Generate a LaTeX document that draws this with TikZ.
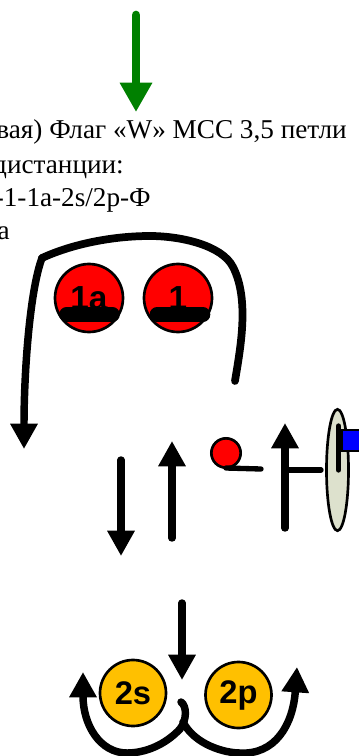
\documentclass[tikz,border=0pt]{standalone}
\usepackage{fontspec}
\setmainfont{Liberation Serif}
\setsansfont{Liberation Sans}
\usetikzlibrary{arrows.meta,shapes.geometric}
\definecolor{flaggreen}{RGB}{0,128,0}
\definecolor{buoyred}{RGB}{255,0,0}
\definecolor{pylongold}{RGB}{255,192,0}
\definecolor{gatekhaki}{RGB}{221,225,205}
\tikzset{
  pathline/.style={line width=5.6pt,line cap=round,-{Triangle[width=19.5pt,length=19pt]}},
  plainline/.style={line width=4pt,line cap=round},
  barline/.style={line width=11pt,line cap=round},
  redbuoy/.style={circle,draw,line width=2pt,fill=buoyred,minimum size=51pt,inner sep=0pt,font=\sffamily\bfseries\fontsize{25}{25}\selectfont},
  goldbuoy/.style={circle,draw,line width=2pt,fill=pylongold,minimum size=49.5pt,inner sep=0pt,font=\sffamily\bfseries\fontsize{24.5}{24.5}\selectfont},
  infotext/.style={anchor=base east,inner sep=0pt,font=\fontsize{20.4}{20.4}\selectfont}
}
\begin{document}
\begin{tikzpicture}[x=0.75pt,y=-0.75pt]
  \useasboundingbox (0,0) rectangle (358,756);
  % green arrow and text
  \coordinate (G1) at (136,15);
  \coordinate (G2) at (136,112);
  \draw[line width=6.5pt,line cap=round,flaggreen,-{Triangle[width=23pt,length=22pt]}] (G1) -- (G2);
  \node[infotext] (L1) at (347,139) {вая) Флаг «W» МСС 3,5 петли};
  \node[infotext] (L2) at (124,173) {дистанции:};
  \node[infotext] (L3) at (151,206) {-1-1a-2s/2p-Ф};
  \node[infotext] (L4) at (10,239) {а};
  % red buoys
  \node[redbuoy] (B1a) at (89,298) {1a};
  \node[redbuoy] (B1) at (178,298) {1};
  \draw[barline] (66.5,314.5) -- (112.5,314.5);
  \draw[barline] (157,314.5) -- (203,314.5);
  % big loop
  \coordinate (P1) at (235,381);
  \coordinate (P2) at (42,258);
  \coordinate (P3) at (24,449);
  \draw[line width=5.8pt,line cap=round] (P1) .. controls (240,350) and (250,300) .. (233,267)
     .. controls (222,245) and (180,236) .. (150,236) .. controls (110,236) and (70,245) .. (P2);
  \draw[pathline] (P2) .. controls (30,290) and (24,370) .. (P3);
  % straight arrows
  \coordinate (A1) at (121,460);
  \coordinate (A2) at (121,556);
  \draw[pathline] (A1) -- (A2);
  \coordinate (A3) at (172,538);
  \coordinate (A4) at (172,441);
  \draw[pathline] (A3) -- (A4);
  \node[circle,draw,line width=2pt,fill=buoyred,minimum size=22pt,inner sep=0pt] (Ball) at (226,453) {};
  \coordinate (T1) at (226,468);
  \coordinate (T2) at (261,469);
  \draw[plainline] (T1) -- (T2);
  \coordinate (A5) at (285,528);
  \coordinate (A6) at (285,423);
  \draw[pathline] (A5) -- (A6);
  % start gate
  \node[ellipse,draw,line width=2pt,fill=gatekhaki,minimum width=16.5pt,minimum height=91pt,inner sep=0pt] (Gate) at (337.5,470) {};
  \coordinate (T3) at (287,470);
  \coordinate (T4) at (321,470);
  \draw[plainline] (T3) -- (T4);
  \fill[blue,draw=black,line width=2pt] (342,430) rectangle (365,451);
  \coordinate (T5) at (338.5,426);
  \coordinate (T6) at (338.5,470);
  \draw[plainline] (T5) -- (T6);
  % pylons
  \node[goldbuoy] (B2s) at (133,693) {2s};
  \node[goldbuoy] (B2p) at (238.5,695) {2p};
  \coordinate (A7) at (182,603);
  \coordinate (A8) at (182,680);
  \draw[pathline] (A7) -- (A8);
  \coordinate (C0) at (181,702);
  \coordinate (C1) at (83,672);
  \coordinate (C2) at (297,667);
  \coordinate (C3) at (183,722);
  \draw[pathline] (C0) .. controls (187,706) and (187,720) .. (180,729)
     .. controls (165,745) and (145,753) .. (127,753) .. controls (100,753) and (83,725) .. (C1);
  \draw[pathline] (C3) .. controls (195,745) and (225,753) .. (240,753)
     .. controls (275,755) and (293,725) .. (C2);
\end{tikzpicture}
\end{document}
